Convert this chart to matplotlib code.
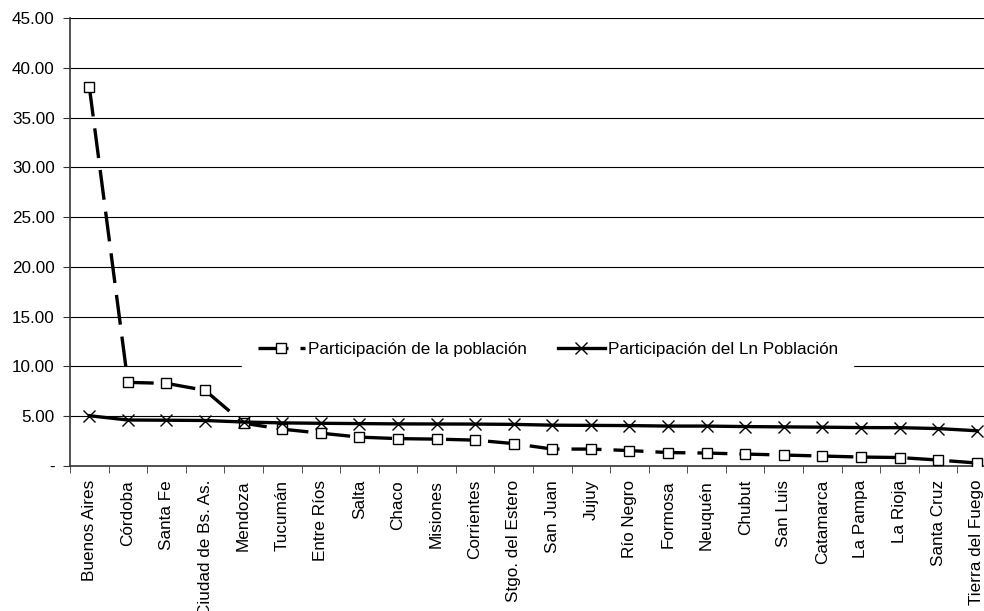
import numpy as np
import matplotlib
matplotlib.use('Agg')
import matplotlib.pyplot as plt
from matplotlib.ticker import FixedLocator

plt.rcParams['font.family'] = ['Liberation Sans', 'DejaVu Sans']

provincias = ['Buenos Aires', 'Córdoba', 'Santa Fe', 'Ciudad de Bs. As.', 'Mendoza',
              'Tucumán', 'Entre Ríos', 'Salta', 'Chaco', 'Misiones', 'Corrientes',
              'Stgo. del Estero', 'San Juan', 'Jujuy', 'Río Negro', 'Formosa',
              'Neuquén', 'Chubut', 'San Luis', 'Catamarca', 'La Pampa', 'La Rioja',
              'Santa Cruz', 'Tierra del Fuego']
part_poblacion = [38.1, 8.4, 8.3, 7.6, 4.3, 3.7, 3.3, 2.9, 2.75, 2.7, 2.6, 2.25,
                  1.7, 1.7, 1.55, 1.35, 1.3, 1.2, 1.1, 1.0, 0.9, 0.85, 0.6, 0.3]
part_ln_poblacion = [5.05, 4.62, 4.60, 4.57, 4.42, 4.33, 4.29, 4.26, 4.23, 4.22,
                     4.21, 4.18, 4.10, 4.08, 4.06, 4.01, 4.01, 3.96, 3.93, 3.90,
                     3.86, 3.85, 3.76, 3.54]
y_ticks = [0, 5, 10, 15, 20, 25, 30, 35, 40, 45]
y_labels = ['-'] + [f'{v:.2f}' for v in y_ticks[1:]]

FS = 12.3

W, H = 984, 611
fig = plt.figure(figsize=(W / 100, H / 100), dpi=100)
left, right, top, bottom = 70, 996, 18, 466
ax = fig.add_axes([left / W, 1 - bottom / H, (right - left) / W, (bottom - top) / H])

x = np.arange(len(provincias))
ax.plot(x, part_poblacion, color='black', lw=2.4, linestyle=(0, (9, 3.6)),
        marker='s', markersize=7.5, markerfacecolor='white', markeredgecolor='black',
        markeredgewidth=1.0, label='Participación de la población', zorder=3)
ax.plot(x, part_ln_poblacion, color='black', lw=2.4, marker='x', markersize=9,
        markeredgewidth=1.0, label='Participación del Ln Población', zorder=4)

ax.set_xlim(-0.5, len(provincias) - 0.5)
ax.set_ylim(0, 45)
ax.set_yticks(y_ticks)
ax.set_yticklabels(y_labels, fontsize=FS)
ax.yaxis.grid(True, color='black', lw=0.8)
ax.set_axisbelow(True)

ax.set_xticks(x)
ax.set_xticklabels(provincias, rotation=90, fontsize=FS, va='top')
ax.xaxis.set_minor_locator(FixedLocator(np.arange(-0.5, len(provincias), 1.0)))
ax.tick_params(axis='x', which='major', length=0, pad=10)
ax.tick_params(axis='x', which='minor', length=5, direction='out', color='#333333')
ax.tick_params(axis='y', length=5, direction='out', color='#333333', pad=6)

for s in ['top', 'right']:
    ax.spines[s].set_visible(False)
for s in ['left', 'bottom']:
    ax.spines[s].set_color('#333333')
    ax.spines[s].set_linewidth(1.2)

leg = ax.legend(loc='center', bbox_to_anchor=(0.516, 0.261), ncol=2, fontsize=FS,
                frameon=True, fancybox=False, handlelength=2.8, handletextpad=0.15,
                columnspacing=1.8, borderpad=0.9)
leg.get_frame().set_facecolor('white')
leg.get_frame().set_edgecolor('white')
leg.get_frame().set_alpha(1.0)

fig.savefig('out.png', dpi=100)
